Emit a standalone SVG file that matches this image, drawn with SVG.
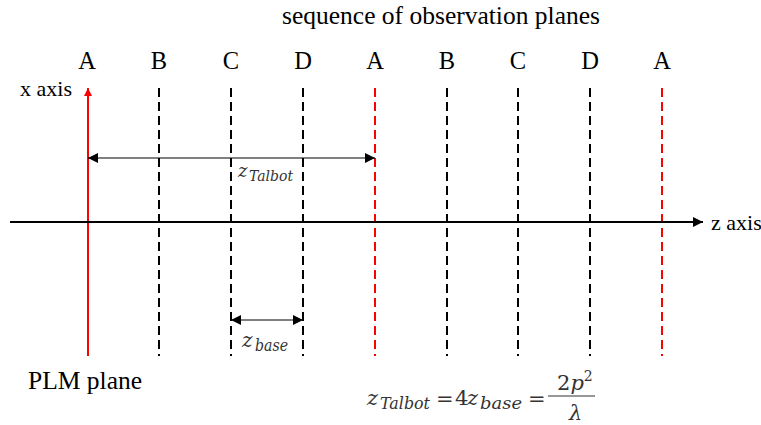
<svg xmlns="http://www.w3.org/2000/svg" width="761" height="425" viewBox="0 0 761 425">
<defs>
<style>
.t{font-family:"Liberation Serif","Times New Roman",serif;fill:#000}
.m{font-family:"DejaVu Serif","Liberation Serif",serif;font-style:italic;fill:#333}
.ms{font-family:"DejaVu Serif","Liberation Serif",serif;fill:#333}
.dk{stroke:#000;stroke-width:2;stroke-dasharray:9 5;fill:none}
.dr{stroke:#f00;stroke-width:2;stroke-dasharray:9 5;fill:none}
.thin{stroke:#000;stroke-width:1;fill:none}
</style>
<marker id="ah" viewBox="0 0 10 10" refX="10" refY="5" markerWidth="10" markerHeight="10" markerUnits="userSpaceOnUse" orient="auto-start-reverse"><path d="M0,0 L10,5 L0,10 z" fill="#000"/></marker>
<marker id="ahr" viewBox="0 0 10 10" refX="10" refY="5" markerWidth="8" markerHeight="10" markerUnits="userSpaceOnUse" orient="auto"><path d="M0,0 L10,5 L0,10 z" fill="#f00"/></marker>
<marker id="ahz" viewBox="0 0 10 10" refX="10" refY="5" markerWidth="12" markerHeight="10" markerUnits="userSpaceOnUse" orient="auto"><path d="M0,0 L10,5 L0,10 z" fill="#000"/></marker>
</defs>
<rect width="761" height="425" fill="#fff"/>
<text class="t" x="441" y="24" font-size="25.5" text-anchor="middle">sequence of observation planes</text>
<g id="labels" font-size="24.5">
<text class="t" x="87" y="69" text-anchor="middle">A</text>
<text class="t" x="159" y="69" text-anchor="middle">B</text>
<text class="t" x="231" y="69" text-anchor="middle">C</text>
<text class="t" x="303" y="69" text-anchor="middle">D</text>
<text class="t" x="375" y="69" text-anchor="middle">A</text>
<text class="t" x="447" y="69" text-anchor="middle">B</text>
<text class="t" x="518" y="69" text-anchor="middle">C</text>
<text class="t" x="590" y="69" text-anchor="middle">D</text>
<text class="t" x="662" y="69" text-anchor="middle">A</text>
</g>
<g id="planes">
<line x1="88" y1="356" x2="88" y2="88" stroke="#f00" stroke-width="2" marker-end="url(#ahr)"/>
<line class="dk" x1="159" y1="88" x2="159" y2="356"/>
<line class="dk" x1="231" y1="88" x2="231" y2="356"/>
<line class="dk" x1="303" y1="88" x2="303" y2="356"/>
<line class="dr" x1="375" y1="88" x2="375" y2="356"/>
<line class="dk" x1="447" y1="88" x2="447" y2="356"/>
<line class="dk" x1="518" y1="88" x2="518" y2="356"/>
<line class="dk" x1="590" y1="88" x2="590" y2="356"/>
<line class="dr" x1="662" y1="88" x2="662" y2="356"/>
</g>
<g id="connectors">
<line x1="10" y1="222" x2="703" y2="222" stroke="#000" stroke-width="2" marker-end="url(#ahz)"/>
<line class="thin" x1="88" y1="158" x2="375" y2="158" marker-start="url(#ah)" marker-end="url(#ah)"/>
<line class="thin" x1="231" y1="320" x2="303" y2="320" marker-start="url(#ah)" marker-end="url(#ah)"/>
</g>
<text class="t" x="20" y="96" font-size="22">x axis</text>
<text class="t" x="711" y="230" font-size="22">z axis</text>
<text class="t" x="28" y="389" font-size="25.5">PLM plane</text>
<text class="m" x="238" y="177" font-size="18">z</text>
<text class="m" x="249" y="181" font-size="14" textLength="44" lengthAdjust="spacingAndGlyphs">Talbot</text>
<text class="m" x="242" y="347" font-size="20">z</text>
<text class="m" x="255" y="351" font-size="16" textLength="33" lengthAdjust="spacingAndGlyphs">base</text>
<g id="formula">
<text class="m" x="367" y="405" font-size="21">z</text>
<text class="m" x="380" y="409" font-size="17" textLength="50" lengthAdjust="spacingAndGlyphs">Talbot</text>
<text class="ms" x="436" y="406" font-size="21">=</text>
<text class="ms" x="455" y="405" font-size="21">4</text>
<text class="m" x="467" y="405" font-size="21">z</text>
<text class="m" x="480" y="409" font-size="17" textLength="42" lengthAdjust="spacingAndGlyphs">base</text>
<text class="ms" x="528" y="406" font-size="21">=</text>
<text class="ms" x="557" y="390" font-size="21">2<tspan font-style="italic">p</tspan><tspan font-size="14" dy="-9">2</tspan></text>
<line x1="548" y1="396" x2="595" y2="396" stroke="#333" stroke-width="1.2"/>
<text class="m" x="569" y="420" font-size="21">λ</text>
</g>
</svg>
